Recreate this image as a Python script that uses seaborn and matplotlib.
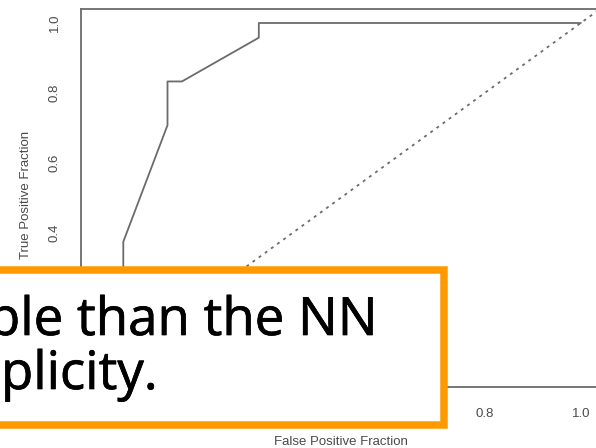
import matplotlib
matplotlib.use("Agg")
import matplotlib.pyplot as plt
import matplotlib.patheffects as pe
from matplotlib.patches import Rectangle
import seaborn as sns
import pandas as pd

# ROC curve points
fpr = [0.0, 0.048, 0.048, 0.14, 0.14, 0.17, 0.33, 0.33, 1.0]
tpr = [0.0, 0.20, 0.375, 0.708, 0.833, 0.833, 0.958, 1.0, 1.0]

tick_values = [0.0, 0.2, 0.4, 0.6, 0.8, 1.0]
tick_labels = ["0.0", "0.2", "0.4", "0.6", "0.8", "1.0"]

callout_lines = ["ple than the NN", "plicity."]

sns.set_theme(style="white")
plt.rcParams["font.family"] = ["Liberation Sans", "DejaVu Sans"]

W, H = 596, 448
fig = plt.figure(figsize=(W / 100, H / 100), dpi=100)
fig.patch.set_facecolor("white")

# axes with R-style 4% padding; right edge runs past the figure
ax = fig.add_axes([81 / W, 61 / H, 519 / W, 378 / H])
ax.set_facecolor("white")

line_col = "#6b6b6b"
text_col = "#4a4a4a"

roc = pd.DataFrame({"fpr": fpr, "tpr": tpr})
sns.lineplot(data=roc, x="fpr", y="tpr", estimator=None, sort=False,
             color=line_col, linewidth=1.3, ax=ax)
ax.axline((0, 0), slope=1, color=line_col, linewidth=1.3,
          linestyle=(0, (1.6, 2.6)))

ax.set_xlim(-0.04, 1.04)
ax.set_ylim(-0.04, 1.04)
ax.set_xticks(tick_values)
ax.set_xticklabels(tick_labels)
ax.set_yticks(tick_values)
ax.set_yticklabels(tick_labels, rotation=90, va="center")

for s in ax.spines.values():
    s.set_color(line_col)
    s.set_linewidth(1.3)

ax.tick_params(axis="both", direction="out", length=5.5, width=1.1,
               color=line_col, labelcolor=text_col, labelsize=9.5)
ax.tick_params(axis="x", pad=9.5)
ax.tick_params(axis="y", pad=9)

ax.set_xlabel("False Positive Fraction", color=text_col, fontsize=9.5)
ax.set_ylabel("True Positive Fraction", color=text_col, fontsize=9.5)
ax.xaxis.set_label_coords(341 / W, 1 - 442 / H, transform=fig.transFigure)
ax.yaxis.set_label_coords(26 / W, 1 - 195 / H, transform=fig.transFigure)
ax.xaxis.label.set_va("center")
ax.yaxis.label.set_va("center")

# orange callout box overlaid on the lower part of the chart
border = 7.5  # px
lw_pt = border * 72 / 100
x0, x1 = -12 + border / 2, 448 - border / 2
ytop, ybot = 266 + border / 2, 429 - border / 2
box = Rectangle((x0 / W, 1 - ybot / H), (x1 - x0) / W, (ybot - ytop) / H,
                transform=fig.transFigure, facecolor="white",
                edgecolor="#ff9900", linewidth=lw_pt, zorder=10)
fig.add_artist(box)

text_kw = dict(fontsize=38, family=["Open Sans", "DejaVu Sans"],
               color="black", va="baseline", ha="left", zorder=11,
               path_effects=[pe.withStroke(linewidth=0.5, foreground="black")])
fig.text(-12 / W, 1 - 335 / H, callout_lines[0], **text_kw)
fig.text(1 / W, 1 - 389 / H, callout_lines[1], **text_kw)

fig.savefig("out.png", dpi=100, facecolor="white")
